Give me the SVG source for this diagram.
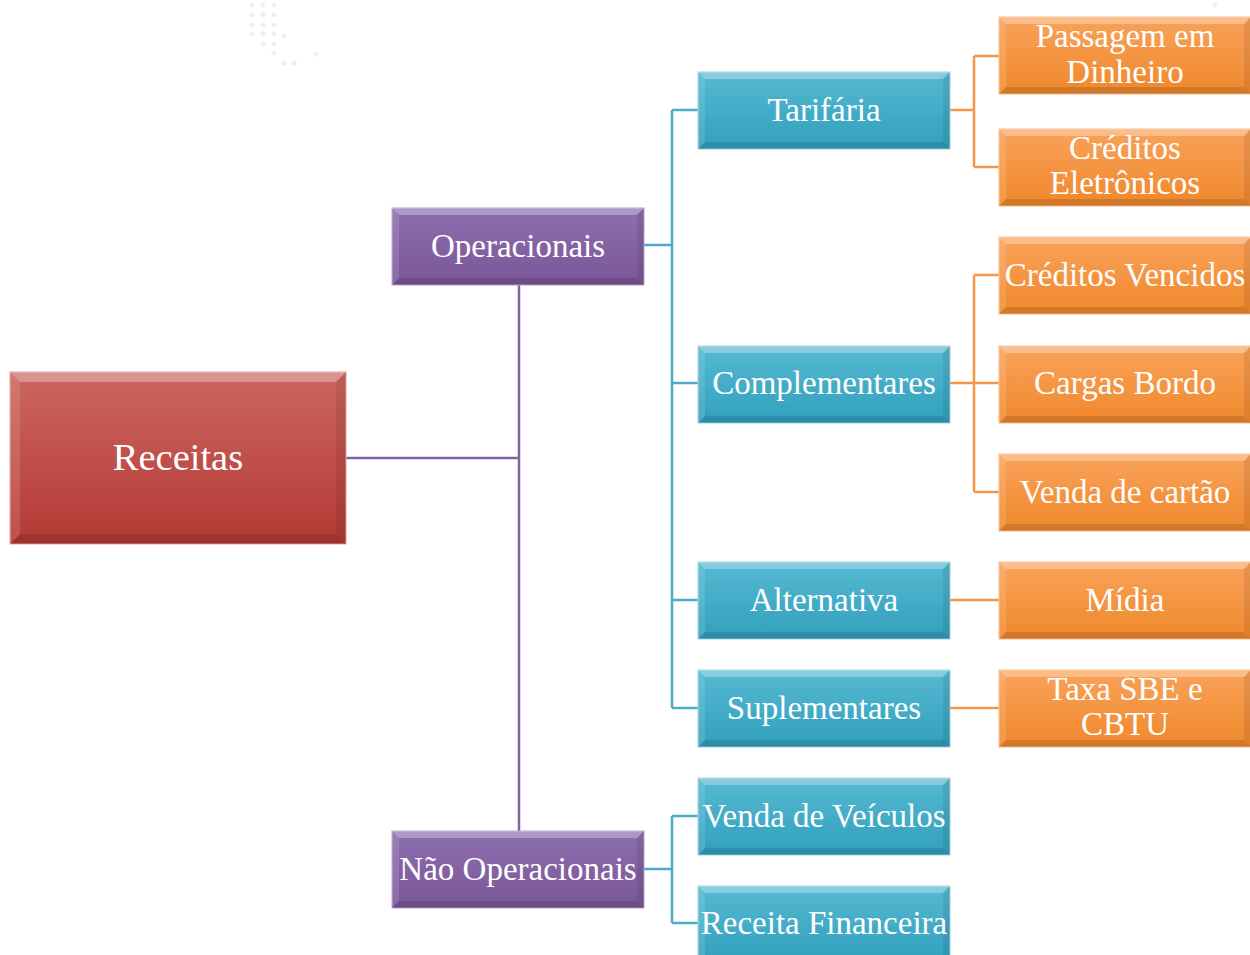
<svg xmlns="http://www.w3.org/2000/svg" xmlns:xlink="http://www.w3.org/1999/xlink" width="1250" height="955" viewBox="0 0 1250 955">
<style>
.lbl{font-family:"Liberation Serif","Times New Roman",serif;font-size:33px;fill:#ffffff;text-anchor:middle}
.big{font-size:38.5px}
.bt{fill:#ffffff;fill-opacity:0.3}
.bl{fill:#ffffff;fill-opacity:0.12}
.br{fill:#000000;fill-opacity:0.08}
.bb{fill:#000000;fill-opacity:0.12}
.cp{fill:none;stroke:#8064a2;stroke-width:2.5}
.ca{fill:none;stroke:#4bacc6;stroke-width:2.5}
.co{fill:none;stroke:#f79646;stroke-width:2.5}
.dot{fill:#d8c8c8;fill-opacity:0.3}
</style>
<defs>
<linearGradient id="gR" x1="0" y1="0" x2="0" y2="1"><stop offset="0" stop-color="#cc6660"/><stop offset="1" stop-color="#b53935"/></linearGradient>
<linearGradient id="gP" x1="0" y1="0" x2="0" y2="1"><stop offset="0" stop-color="#8d6fae"/><stop offset="1" stop-color="#7a5699"/></linearGradient>
<linearGradient id="gA" x1="0" y1="0" x2="0" y2="1"><stop offset="0" stop-color="#56b9d2"/><stop offset="1" stop-color="#31a0bd"/></linearGradient>
<linearGradient id="gO" x1="0" y1="0" x2="0" y2="1"><stop offset="0" stop-color="#f9a25a"/><stop offset="1" stop-color="#f0882c"/></linearGradient>
<g id="bev">
<polygon class="bt" points="0,0 252,0 245,7 7,7"/>
<polygon class="bl" points="0,0 7,7 7,70 0,77"/>
<polygon class="br" points="252,0 252,77 245,70 245,7"/>
<polygon class="bb" points="0,77 7,70 245,70 252,77"/>
</g>
<g id="boxP"><rect width="252" height="77" fill="url(#gP)" stroke="#b9a6d0" stroke-width="1"/><use xlink:href="#bev"/></g>
<g id="boxA"><rect width="252" height="77" fill="url(#gA)" stroke="#9fd6e6" stroke-width="1"/><use xlink:href="#bev"/></g>
<g id="boxO"><rect width="252" height="77" fill="url(#gO)" stroke="#fbc08f" stroke-width="1"/><use xlink:href="#bev"/></g>
</defs>
<rect width="1250" height="955" fill="#ffffff"/>
<g id="decor">
<circle class="dot" cx="252" cy="5" r="2.5"/><circle class="dot" cx="263" cy="5" r="2.5"/><circle class="dot" cx="274" cy="5" r="2.5"/>
<circle class="dot" cx="252" cy="15" r="2.5"/><circle class="dot" cx="263" cy="15" r="2.5"/><circle class="dot" cx="274" cy="15" r="2.5"/>
<circle class="dot" cx="252" cy="25" r="2.5"/><circle class="dot" cx="263" cy="25" r="2.5"/><circle class="dot" cx="274" cy="25" r="2.5"/>
<circle class="dot" cx="252" cy="34" r="2.5"/><circle class="dot" cx="263" cy="34" r="2.5"/><circle class="dot" cx="274" cy="34" r="2.5"/><circle class="dot" cx="284" cy="36" r="2.5"/>
<circle class="dot" cx="263" cy="44" r="2.5"/><circle class="dot" cx="274" cy="44" r="2.5"/>
<circle class="dot" cx="274" cy="53" r="2.5"/><circle class="dot" cx="316" cy="54" r="2.5"/>
<circle class="dot" cx="284" cy="63" r="2.5"/><circle class="dot" cx="294" cy="63" r="2.5"/>
<circle class="dot" cx="1215" cy="5" r="2.5"/>
</g>
<g id="connectors">
<path class="cp" d="M346,458 H519 M519,284 V831"/>
<path class="ca" d="M644,245 H672 M672,110 V708 M672,110 H698 M672,383 H698 M672,600 H698 M672,708 H698"/>
<path class="ca" d="M644,869 H672 M672,816 V923 M672,816 H698 M672,923 H698"/>
<path class="co" d="M950,110 H974 M974,56 V167 M974,56 H999 M974,167 H999"/>
<path class="co" d="M950,383 H999 M974,275 V492 M974,275 H999 M974,492 H999"/>
<path class="co" d="M950,600 H999 M950,708 H999"/>
</g>
<g id="n-receitas">
<rect x="10" y="372" width="336" height="172" fill="url(#gR)" stroke="#e8a3a0" stroke-width="1"/>
<polygon class="bt" points="10,372 346,372 336,382 20,382"/>
<polygon class="bl" points="10,372 20,382 20,534 10,544"/>
<polygon class="br" points="346,372 346,544 336,534 336,382"/>
<polygon class="bb" points="10,544 20,534 336,534 346,544"/>
<text class="lbl big" x="178" y="470">Receitas</text>
</g>
<g id="n-operacionais"><use xlink:href="#boxP" x="392" y="208"/><text class="lbl" x="518" y="257">Operacionais</text></g>
<g id="n-naooperacionais"><use xlink:href="#boxP" x="392" y="831"/><text class="lbl" x="518" y="880">Não Operacionais</text></g>
<g id="n-tarifaria"><use xlink:href="#boxA" x="698" y="72"/><text class="lbl" x="824" y="121">Tarifária</text></g>
<g id="n-complementares"><use xlink:href="#boxA" x="698" y="346"/><text class="lbl" x="824" y="394">Complementares</text></g>
<g id="n-alternativa"><use xlink:href="#boxA" x="698" y="562"/><text class="lbl" x="824" y="611">Alternativa</text></g>
<g id="n-suplementares"><use xlink:href="#boxA" x="698" y="670"/><text class="lbl" x="824" y="719">Suplementares</text></g>
<g id="n-vendaveiculos"><use xlink:href="#boxA" x="698" y="778"/><text class="lbl" x="824" y="827">Venda de Veículos</text></g>
<g id="n-receitafinanceira"><use xlink:href="#boxA" x="698" y="886"/><text class="lbl" x="824" y="934">Receita Financeira</text></g>
<g id="n-passagem"><use xlink:href="#boxO" x="999" y="17"/><text class="lbl" x="1125" y="47">Passagem em</text><text class="lbl" x="1125" y="83">Dinheiro</text></g>
<g id="n-creditoseletronicos"><use xlink:href="#boxO" x="999" y="129"/><text class="lbl" x="1125" y="159">Créditos</text><text class="lbl" x="1125" y="194">Eletrônicos</text></g>
<g id="n-creditosvencidos"><use xlink:href="#boxO" x="999" y="237"/><text class="lbl" x="1125" y="286">Créditos Vencidos</text></g>
<g id="n-cargasbordo"><use xlink:href="#boxO" x="999" y="346"/><text class="lbl" x="1125" y="394">Cargas Bordo</text></g>
<g id="n-vendacartao"><use xlink:href="#boxO" x="999" y="454"/><text class="lbl" x="1125" y="503">Venda de cartão</text></g>
<g id="n-midia"><use xlink:href="#boxO" x="999" y="562"/><text class="lbl" x="1125" y="611">Mídia</text></g>
<g id="n-taxa"><use xlink:href="#boxO" x="999" y="670"/><text class="lbl" x="1125" y="700">Taxa SBE e</text><text class="lbl" x="1125" y="735">CBTU</text></g>
</svg>
